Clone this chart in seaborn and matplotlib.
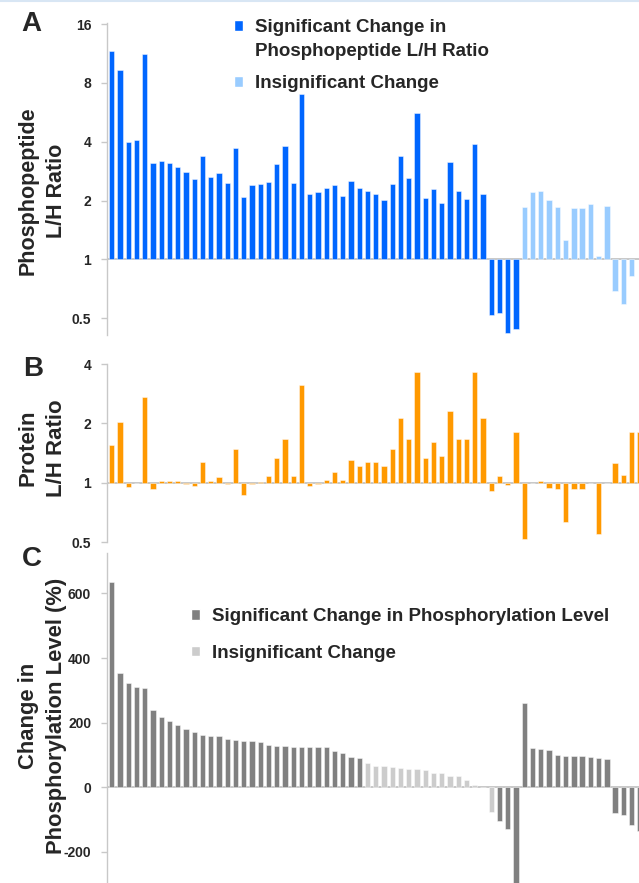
import numpy as np
import pandas as pd
import matplotlib
matplotlib.use("Agg")
import matplotlib.pyplot as plt
import seaborn as sns
from matplotlib.ticker import FuncFormatter, FixedLocator
from matplotlib.patches import Rectangle
from matplotlib.lines import Line2D

sns.set_theme(style="white")
plt.rcParams["font.family"] = ["Liberation Sans", "DejaVu Sans"]
plt.rcParams["font.weight"] = "bold"

# panel A: phosphopeptide L/H ratio (first 50 significant)
pep_ratio = [11.6, 9.3, 4.0, 4.1, 11.3, 3.1, 3.2, 3.1, 2.97, 2.79,
             2.59, 3.37, 2.64, 2.77, 2.46, 3.70, 2.09, 2.39, 2.42, 2.50,
             3.08, 3.79, 2.46, 7.03, 2.15, 2.20, 2.32, 2.41, 2.10, 2.51,
             2.31, 2.23, 2.17, 2.02, 2.43, 3.39, 2.61, 5.64, 2.06, 2.29,
             1.95, 3.15, 2.23, 2.03, 3.90, 2.15, 0.52, 0.53, 0.42, 0.44,
             1.85, 2.20, 2.23, 2.02, 1.85, 1.25, 1.84, 1.83, 1.91, 1.04,
             1.88, 0.69, 0.59, 0.82]
pep_sig = [True] * 50 + [False] * 14

# panel B: protein L/H ratio
prot_ratio = [1.56, 2.04, 0.95, 1.0, 2.73, 0.925, 1.02, 1.015, 1.015, 0.99,
              0.96, 1.28, 1.015, 1.07, 0.985, 1.49, 0.87, 0.99, 1.01, 1.08,
              1.34, 1.66, 1.08, 3.12, 0.96, 0.985, 1.035, 1.13, 1.03, 1.30,
              1.21, 1.28, 1.28, 1.21, 1.48, 2.14, 1.66, 3.63, 1.34, 1.60,
              1.36, 2.30, 1.66, 1.66, 3.63, 2.14, 0.91, 1.085, 0.97, 1.81,
              0.52, 1.0, 1.02, 0.94, 0.93, 0.63, 0.93, 0.93, 0.995, 0.55,
              1.0, 1.26, 1.09, 1.81, 1.81]

# panel C: change in phosphorylation level (%)
phos_change = [635, 353, 324, 310, 308, 239, 219, 206, 193, 182,
               170, 162, 160, 158, 148, 147, 144, 144, 140, 131,
               129, 127, 126, 126, 125, 125, 125, 113, 105, 93,
               92, 74, 67, 67, 64, 59, 57, 56, 54, 43,
               43, 36, 35, 23, 6, 0, -75, -103, -130, -320,
               260, 121, 119, 115, 99, 98, 98, 97, 93, 92,
               88, -80, -86, -118, -134]
phos_sig = [True] * 31 + [False] * 16 + [True] * 18

log2_ticks_a = [-1, 0, 1, 2, 3, 4]
log2_ticks_b = [-1, 0, 1, 2]
pct_ticks = [-200, 0, 200, 400, 600]

blue, light_blue = "#0066ff", "#99ccff"
orange = "#ff9900"
gray, light_gray = "#808080", "#cccccc"

df_a = pd.DataFrame({"idx": range(len(pep_ratio)), "val": np.log2(pep_ratio),
                     "grp": np.where(pep_sig, "sig", "ins")})
df_b = pd.DataFrame({"idx": range(len(prot_ratio)), "val": np.log2(prot_ratio),
                     "grp": "sig"})
df_c = pd.DataFrame({"idx": range(len(phos_change)), "val": phos_change,
                     "grp": np.where(phos_sig, "sig", "ins")})

W, H = 639, 883
fig = plt.figure(figsize=(W / 100, H / 100), dpi=100)


def px_axes(top, bottom, left=106.5, right=639):
    return fig.add_axes([left / W, 1 - bottom / H, (right - left) / W, (bottom - top) / H])


ax_a = px_axes(23, 335)
ax_b = px_axes(364, 542)
ax_c = px_axes(553, 883)

bar_kw = dict(x="idx", y="val", hue="grp", dodge=False, width=0.65, saturation=1,
              edgecolor=(1, 1, 1, 0.45), linewidth=0.7, legend=False)
sns.barplot(data=df_a, ax=ax_a, palette={"sig": blue, "ins": light_blue}, **bar_kw)
sns.barplot(data=df_b, ax=ax_b, palette={"sig": orange}, **bar_kw)
sns.barplot(data=df_c, ax=ax_c, palette={"sig": gray, "ins": light_gray}, **bar_kw)

log_fmt = FuncFormatter(lambda v, _: f"{2.0 ** v:g}")
pct_fmt = FuncFormatter(lambda v, _: f"{v:g}")
for ax, ylim, ticks, fmt in [(ax_a, (np.log2(0.41), np.log2(16.2)), log2_ticks_a, log_fmt),
                             (ax_b, (-1, 2), log2_ticks_b, log_fmt),
                             (ax_c, (-296, 725), pct_ticks, pct_fmt)]:
    ax.set_xlim(-0.64, 63.9)
    ax.set_ylim(*ylim)
    ax.yaxis.set_major_locator(FixedLocator(ticks))
    ax.yaxis.set_major_formatter(fmt)
    ax.axhline(0, color="#c4c4c4", lw=1.3, zorder=0.5)
    ax.set_xlabel("")
    ax.set_ylabel("")
    ax.set_xticks([])
    for s in ["top", "right", "bottom"]:
        ax.spines[s].set_visible(False)
    ax.spines["left"].set_color("#c8c8c8")
    ax.spines["left"].set_linewidth(1.0)
    ax.tick_params(axis="y", left=True, length=4, width=1, color="#c8c8c8",
                   labelsize=10, pad=7)
    ax.patch.set_alpha(0)

# panel letters and y labels
for letter, x, y in [("A", 31, 24), ("B", 33, 369), ("C", 32, 559)]:
    fig.text(x / W, 1 - y / H, letter, fontsize=20, fontweight="bold",
             ha="center", va="center")
for label, y, size in [("Phosphopeptide\nL/H Ratio", 191, 15.5),
                       ("Protein\nL/H Ratio", 448, 16),
                       ("Change in\nPhosphorylation Level (%)", 716, 15.8)]:
    fig.text(42.5 / W, 1 - y / H, label, fontsize=size, fontweight="bold", rotation=90,
             ha="center", va="center", multialignment="center", linespacing=1.45)

# legends
blank = Rectangle((0, 0), 1, 1, fc="none", ec="none")
leg_kw = dict(frameon=False, loc="upper left", borderpad=0, borderaxespad=0,
              handlelength=0.5, handleheight=0.5, handletextpad=0.6,
              prop={"weight": "bold", "size": 13.5})
fig.legend([Rectangle((0, 0), 1, 1, fc=blue), blank],
           ["Significant Change in", "Phosphopeptide L/H Ratio"],
           bbox_to_anchor=(234 / W, 1 - 19 / H), labelspacing=0.35, **leg_kw)
fig.legend([Rectangle((0, 0), 1, 1, fc=light_blue)], ["Insignificant Change"],
           bbox_to_anchor=(234 / W, 1 - 75 / H), **leg_kw)
fig.legend([Rectangle((0, 0), 1, 1, fc=gray), Rectangle((0, 0), 1, 1, fc=light_gray)],
           ["Significant Change in Phosphorylation Level", "Insignificant Change"],
           bbox_to_anchor=(191 / W, 1 - 608 / H), labelspacing=1.05, **leg_kw)

fig.add_artist(Line2D([0, 1], [1 - 1 / H, 1 - 1 / H], color="#d8e6f4", lw=1.5,
                      transform=fig.transFigure))

fig.savefig("out.png", dpi=100)
